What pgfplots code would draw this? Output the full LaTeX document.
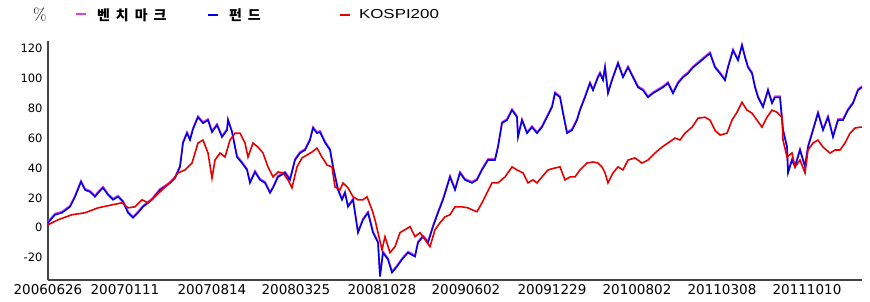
\documentclass[border=0pt]{standalone}
\usepackage{pgfplots}
\pgfplotsset{compat=1.18}
\usepackage{pgfplotstable}
\usepackage{graphicx}
\usepackage{fontspec}
\setmainfont{Liberation Sans}
\newfontfamily\dv{DejaVu Sans}
\newfontfamily\kr{Noto Sans CJK KR}
\definecolor{bm}{HTML}{E040E8}
\definecolor{fd}{HTML}{0000E6}
\definecolor{ks}{HTML}{E60000}
\definecolor{ax}{HTML}{444444}

\pgfplotstableread{
x y
0 3.3
7 8.7
14 10
22 14
27 20.7
33 30.7
37 25.3
42 24
47 20.7
50 23.3
55 26.7
60 22
65 18.7
70 20.7
75 17.3
80 10
85 6.7
90 10
95 14
104 18.7
112 25.3
120 28.7
127 33.3
132 40.7
135 56.7
139 63.3
142 58.7
145 66
150 74
155 70
160 72
164 64
169 68.7
174 60.7
179 65.3
180 72
184 64
189 47.3
194 43.3
199 38.7
202 30
207 37.3
212 32
217 30
222 23.3
225 26.7
230 34
237 36.7
242 32
247 45.3
252 50
257 52
262 58.7
265 66.7
269 63.3
272 64
277 57
282 52
285 40.7
290 25.3
294 18.7
297 23.3
300 14
305 18.7
310 -3.3
315 5.3
320 10
325 -3.3
330 -10
332 -32.7
335 -16.7
340 -21.3
344 -30
349 -26
354 -21.3
360 -16.7
367 -19.3
370 -10
375 -6
380 -10
385 0.7
390 10
395 18.7
399 27.3
402 34
407 25.3
412 36.7
417 32
424 30
429 32
434 38.7
440 45.3
447 45.3
450 54
454 70
459 72
464 78.7
469 74
470 60.7
474 72
479 63.3
484 67.3
489 63.3
494 67.3
499 74
504 80.7
507 90
512 87.3
515 76.7
519 63.3
524 65.3
529 72
532 78.7
537 87.3
542 96.7
545 92
550 100.7
552 103.3
555 98.7
557 107.3
560 90
564 98.7
570 110
575 100.7
580 107.3
585 100.7
590 94
595 92
600 87.3
605 90
610 92
615 94
620 96.7
625 90
630 96.7
635 100.7
640 103.3
645 107.3
650 110
657 114
662 116.7
667 107.3
672 103.3
677 98.7
680 107.3
685 118.7
690 112
694 122
697 114
700 107.3
704 103.3
707 94
710 87.3
715 80.7
720 92
724 83.3
727 87.3
732 87.3
735 65.3
739 54
740 36.7
744 45.3
747 40.7
752 52
757 40.7
760 54
765 65.3
770 76.7
775 65.3
780 74
785 60.7
790 72
795 72
800 78.7
805 83.3
810 92
814 94
}\fund

\pgfplotstableread{
x y
0 2
10 5.3
24 8.7
37 10
50 13.3
64 15.3
74 16.7
80 13.3
87 14
94 18.7
100 16.7
107 20.7
117 27.3
125 32
130 36.7
137 38.7
144 43.3
150 56.7
155 58.7
160 50
164 33.3
167 45.3
172 50
177 47.3
182 58.7
187 63.3
192 63.3
197 56.7
200 47.3
205 56.7
210 54
215 50
220 40.7
225 34
230 37.3
235 36.7
240 32
244 26.7
249 40.7
254 46.7
259 48.7
264 50.7
269 53.3
274 47.3
279 42
284 40.7
287 27.3
292 25.3
295 30
300 26.7
305 20.7
310 18.7
315 18.7
319 20.7
324 12
327 5.3
330 -3.3
334 -14.7
337 -6
342 -16.7
347 -12.7
352 -3.3
357 -1.3
362 0.7
367 -6
372 -3.3
377 -8
382 -12.7
387 -1.3
392 3.3
397 7.3
402 8.7
407 14
414 14
420 13.3
424 12
429 10.7
434 16.7
439 23.3
444 30
450 30
457 34
464 40.7
469 38.7
475 36.7
480 30
485 32
489 30
494 34
500 38.7
507 40
512 40.7
517 32
522 34
527 34
532 38.7
539 43.3
545 44
550 43.3
554 40.7
557 36.7
560 30
565 36.7
570 40.7
575 38.7
580 45.3
587 46.7
594 43.3
600 45.3
607 50
614 54
620 56.7
627 60
632 58.7
637 63.3
644 67.3
650 73.3
657 74
662 72
667 65.3
672 62
679 63.3
684 72
689 77.3
694 84
699 78.7
704 76.7
709 72
714 67.3
719 74
724 78.7
729 77.3
734 74
735 58.7
739 47.3
744 50
747 40.7
752 45.3
757 36.7
760 52
765 56.7
770 58.7
775 54
782 50
787 52
792 52
797 56.7
802 63.3
807 66.7
812 67.3
814 67.3
}\kospi

\newcommand{\gap}{\hspace{6pt}}
\begin{document}
\begin{tikzpicture}
\useasboundingbox (-48pt,-22pt) rectangle (822pt,280pt);
\begin{axis}[
  at={(0pt,0pt)}, anchor=south west,
  scale only axis, width=814pt, height=239pt,
  xmin=0, xmax=814, ymin=-35, ymax=125,
  axis lines=left,
  axis line style={-, ax, line width=1.4pt},
  major tick length=0pt,
  ytick={-20,0,20,40,60,80,100,120},
  xtick={0,77,164,248,334,418,504,589,674,759},
  xticklabels={20060626,20070111,20070814,20080325,20081028,20090602,20091229,20100802,20110308,20111010},
  /pgf/number format/assume math mode=true,
  yticklabel style={font=\dv\fontsize{11.5}{12}\selectfont, xshift=-2pt},
  xticklabel style={font=\dv\fontsize{13.5}{14}\selectfont, yshift=-1pt},
  clip=false,
  legend style={draw=none, fill=none, at={(0.033,1.109)}, anchor=west, inner sep=0pt,
    font=\kr\bfseries\fontsize{14}{15}\selectfont,
    /tikz/every odd column/.append style={column sep=2pt},
    /tikz/every even column/.append style={column sep=12pt}},
  legend columns=3,
  legend cell align=left,
  legend image code/.code={\draw[#1, line width=2pt] (0pt,0pt) -- (10pt,0pt);},
]
\addplot[bm, line width=1.6pt, yshift=1.2pt] table[x=x,y=y] {\fund};
\addlegendentry{\makebox[102pt][l]{\hspace{6pt}벤\gap 치\gap 마\gap 크}}
\addplot[fd, line width=1.6pt] table[x=x,y=y] {\fund};
\addlegendentry{\makebox[102pt][l]{\hspace{6pt}펀\gap 드}}
\addplot[ks, line width=1.6pt] table[x=x,y=y] {\kospi};
\addlegendentry{\hspace{4pt}\scalebox{1.3}[1]{\fontspec{Liberation Sans}\mdseries\fontsize{13}{14}\selectfont KOSPI200}}
\end{axis}
\node[font=\fontspec{Latin Modern Roman}\fontsize{17}{18}\selectfont] at (-8pt,265pt) {\%};
\end{tikzpicture}
\end{document}
